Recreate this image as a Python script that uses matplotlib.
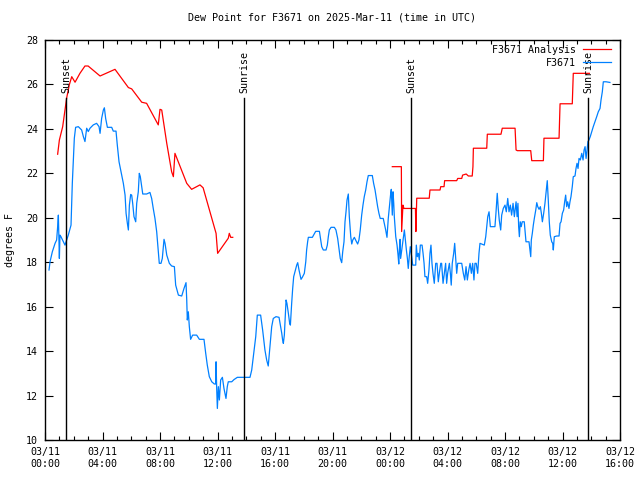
import numpy as np
import matplotlib
matplotlib.use("Agg")
import matplotlib.pyplot as plt
from matplotlib.ticker import MultipleLocator, FixedLocator

# hours since 2025-03-11 00:00 UTC, dew point in F

# analysis, first night
anaA_hours = [0.88, 1.0, 1.23, 1.39, 1.51, 1.69, 1.86, 2.09, 2.43, 2.78, 3.0, 3.83, 4.87,
              5.8, 6.03, 6.73, 7.07, 7.88, 8.0, 8.12, 8.47, 8.81, 8.93, 9.04, 9.86, 10.2,
              10.78, 11.0, 11.9, 12.01, 12.75, 12.82, 12.92, 13.06]
anaA_dewpt = [22.86, 23.5, 24.1, 24.85, 25.4, 25.98, 26.35, 26.1, 26.5, 26.83, 26.83, 26.38, 26.68,
              25.86, 25.8, 25.2, 25.15, 24.18, 24.88, 24.85, 23.35, 22.07, 21.85, 22.9, 21.55, 21.28,
              21.48, 21.35, 19.3, 18.4, 19.08, 19.3, 19.12, 19.12]

# analysis, second night
anaB_hours = [24.16, 24.79, 24.81, 24.9, 24.97, 25.77, 25.8, 25.86, 26.73, 26.78, 27.48, 27.53,
              27.76, 27.8, 28.64, 28.71, 28.99, 29.05, 29.3, 29.45, 29.72, 29.77, 29.8, 30.73,
              30.77, 31.72, 31.81, 32.7, 32.77, 32.86, 33.79, 33.86, 34.67, 34.71, 35.76, 35.83,
              36.68, 36.75, 37.87]
anaB_dewpt = [22.3, 22.3, 19.38, 20.57, 20.42, 20.42, 19.38, 20.88, 20.88, 21.25, 21.25, 21.4,
              21.4, 21.67, 21.67, 21.77, 21.77, 21.92, 21.97, 21.88, 21.88, 22.3, 23.13, 23.13,
              23.76, 23.76, 24.03, 24.03, 23.05, 23.02, 23.02, 22.57, 22.57, 23.58, 23.58, 25.13,
              25.13, 26.5, 26.5]

# station obs
obs_hours = [0.28, 0.35, 0.51, 0.70, 0.81, 0.88, 0.93, 0.97, 1.0, 1.04, 1.11, 1.28, 1.39, 1.51,
             1.62, 1.81, 1.90, 2.04, 2.13, 2.32, 2.55, 2.67, 2.78, 2.90, 3.01, 3.13, 3.36, 3.59,
             3.76, 3.83, 3.94, 4.06, 4.13, 4.22, 4.34, 4.64, 4.75, 4.94, 5.03, 5.15, 5.29, 5.45,
             5.57, 5.64, 5.73, 5.80, 5.87, 5.96, 6.03, 6.10, 6.19, 6.31, 6.38, 6.49, 6.56, 6.63,
             6.73, 6.80, 7.07, 7.30, 7.42, 7.53, 7.65, 7.77, 7.88, 7.95, 8.07, 8.16, 8.28,
             8.35, 8.47, 8.65, 8.81, 9.0, 9.09, 9.28, 9.51, 9.67, 9.81, 9.86, 9.90, 9.97, 10.04,
             10.13, 10.27, 10.55, 10.74, 11.06, 11.18, 11.29, 11.43, 11.6, 11.78, 11.87, 11.9,
             11.94, 11.99, 12.06, 12.13, 12.22, 12.34, 12.45, 12.59, 12.68, 12.75, 12.99, 13.15,
             13.38, 14.26, 14.38, 14.49, 14.66, 14.77, 15.0, 15.14, 15.3, 15.42, 15.53, 15.65,
             15.77, 15.88, 16.07, 16.28,
             16.35, 16.47, 16.53, 16.58, 16.65, 16.7, 16.77, 16.83, 16.93, 17.02, 17.07, 17.16,
             17.23, 17.3, 17.39, 17.51, 17.58, 17.67, 17.81, 17.9, 18.04, 18.14, 18.2, 18.27,
             18.32, 18.6, 18.73, 18.83, 19.09, 19.18, 19.25, 19.36, 19.55, 19.64, 19.71, 19.78,
             19.9, 20.13, 20.24, 20.36, 20.45, 20.54, 20.64, 20.71, 20.8, 20.87, 20.94, 21.01,
             21.1, 21.17, 21.27, 21.34, 21.41, 21.52, 21.63, 21.75, 21.84, 21.93, 22.03, 22.12,
             22.21, 22.31, 22.4, 22.49, 22.77, 22.86, 22.96, 23.05, 23.14, 23.23, 23.32, 23.53,
             23.6, 23.7, 23.79, 23.88, 23.98, 24.05, 24.09, 24.16, 24.21, 24.26, 24.3, 24.4,
             24.49, 24.56, 24.61, 24.65, 24.7,
             24.74, 24.83, 24.93, 25.0, 25.07, 25.14, 25.21, 25.27, 25.34, 25.41, 25.51, 25.58,
             25.79, 25.83, 25.9, 25.97, 26.04, 26.11, 26.23, 26.3, 26.37, 26.43, 26.55, 26.62,
             26.71, 26.78, 26.85, 26.92, 26.99, 27.08, 27.18, 27.27, 27.36, 27.43, 27.53, 27.59,
             27.69, 27.78, 27.87, 27.94, 28.01, 28.13, 28.2, 28.26, 28.33, 28.43, 28.5, 28.57,
             28.64, 28.71, 28.99, 29.1, 29.2, 29.29, 29.38, 29.48, 29.57, 29.66, 29.75, 29.84,
             29.91, 30.0, 30.1, 30.19, 30.26, 30.56, 30.66, 30.73, 30.8, 30.89, 30.98, 31.3,
             31.37, 31.46, 31.53, 31.6, 31.7, 31.77, 31.88, 32.0, 32.09, 32.19, 32.28, 32.37,
             32.46, 32.56, 32.65, 32.77, 32.84, 32.9, 32.95, 33.0,
             33.06, 33.13, 33.2, 33.34, 33.41, 33.46, 33.67, 33.74, 33.79, 33.83, 33.9, 33.97,
             34.04, 34.14, 34.21, 34.28, 34.37, 34.46, 34.53, 34.6, 34.69, 34.78, 34.87, 34.94,
             35.01, 35.08, 35.15, 35.25, 35.32, 35.36, 35.43, 35.6, 35.76, 35.83, 35.9, 35.99,
             36.08, 36.15, 36.22, 36.29, 36.36, 36.45, 36.52, 36.59, 36.68, 36.75, 36.87, 36.94,
             37.01, 37.08, 37.15, 37.24, 37.34, 37.43, 37.5, 37.57, 37.64, 37.71, 37.77, 37.84,
             37.93, 38.03, 38.14, 38.26, 38.38, 38.49, 38.61, 38.68, 38.77, 38.84, 39.03, 39.3]
obs_dewpt = [17.65, 18.02, 18.47, 18.85, 19.0, 19.6, 20.12, 19.07, 18.17, 19.22, 19.15, 18.92, 18.77, 19.0,
             19.22, 19.67, 21.55, 23.58, 24.07, 24.1, 23.95, 23.65, 23.43, 24.03, 23.88, 24.03, 24.18, 24.25,
             24.1, 23.8, 24.47, 24.85, 24.95, 24.47, 24.07, 24.07, 23.9, 23.9, 23.27, 22.52, 22.07, 21.55,
             21.02, 20.2, 19.75, 19.45, 20.57, 21.05, 21.02, 20.65, 20.05, 19.82, 20.65, 21.17, 22.0, 21.85,
             21.4, 21.07, 21.07, 21.14, 20.87, 20.42, 19.97, 19.37, 18.47, 17.95, 17.95, 18.17, 19.03,
             18.85, 18.32, 17.95, 17.83, 17.8, 16.97, 16.52, 16.48, 16.82, 17.08, 16.3, 15.4, 15.77, 15.1,
             14.53, 14.72, 14.72, 14.53, 14.53, 13.9, 13.37, 12.85, 12.62, 12.52, 12.52, 13.52,
             12.4, 11.42, 12.4, 11.8, 12.7, 12.82, 12.32, 11.87, 12.4, 12.62, 12.62, 12.72,
             12.82, 12.82, 13.15, 13.75, 14.65, 15.62, 15.62, 14.95, 14.05, 13.6, 13.33, 14.2,
             15.1, 15.47, 15.55, 15.52,
             15.25, 14.8, 14.5, 14.35, 14.72, 15.4, 16.3, 16.15, 15.7, 15.25, 15.17, 16.15,
             16.82, 17.35, 17.57, 17.87, 17.98, 17.65, 17.23, 17.32, 17.5, 18.02, 18.55, 18.92,
             19.12, 19.12, 19.27, 19.39, 19.39, 19.0, 18.7, 18.55, 18.55, 18.77, 19.15, 19.45,
             19.57, 19.57, 19.45, 19.07, 18.62, 18.17, 17.98, 18.47, 18.92, 19.82, 20.27, 20.8,
             21.07, 20.05, 19.15, 18.82, 19.0, 19.12, 18.97, 18.82, 19.0, 19.45, 20.12, 20.57,
             20.95, 21.25, 21.62, 21.9, 21.9, 21.55, 21.25, 20.87, 20.5, 20.2, 19.97, 19.97,
             19.75, 19.45, 19.12, 19.97, 20.65, 21.1, 21.28, 20.12, 21.17, 20.65, 20.05, 19.15,
             18.77, 18.32, 17.92, 18.55, 19.03,
             18.17, 18.62, 19.15, 19.45, 19.0, 18.55, 18.17, 17.72, 18.25, 18.7, 18.25, 17.87,
             17.87, 18.77, 18.25, 18.4, 18.1, 18.77, 18.77, 18.4, 17.95, 17.35, 17.35, 17.05,
             17.65, 18.4, 18.77, 17.95, 17.5, 17.05, 17.95, 17.95, 17.12, 17.5, 17.95, 17.95,
             17.05, 17.5, 17.95, 17.05, 17.5, 17.95, 17.5, 16.97, 17.95, 18.4, 18.85, 18.17,
             17.5, 17.95, 17.95, 17.5, 17.2, 17.8, 17.2, 17.65, 17.95, 17.5, 17.95, 17.2,
             17.95, 17.95, 17.5, 18.4, 18.85, 18.77, 19.15, 19.6, 20.05, 20.27, 19.6, 19.6,
             20.2, 21.1, 20.42, 19.9, 19.45, 20.12, 20.42, 20.57, 20.27, 20.87, 20.27, 20.57,
             20.12, 20.65, 20.05, 20.72, 20.05, 20.65, 19.6, 19.15,
             19.82, 19.6, 19.82, 19.82, 19.3, 18.92, 18.92, 18.55, 18.25, 19.0, 19.3, 19.67,
             19.97, 20.35, 20.68, 20.5, 20.38, 20.5, 20.2, 19.82, 20.2, 20.65, 21.25, 21.67,
             20.8, 19.82, 19.22, 18.92, 18.85, 18.55, 19.15, 19.18, 19.18, 19.75, 19.82, 20.2,
             20.35, 20.72, 21.02, 20.5, 20.72, 20.42, 20.72, 20.95, 21.4, 21.85, 21.88, 22.22,
             22.45, 22.22, 22.67, 22.6, 22.9, 22.6, 23.05, 23.2, 22.67, 23.05, 23.43, 23.5,
             23.65, 23.87, 24.1, 24.32, 24.55, 24.77, 24.92, 25.3, 25.67, 26.12, 26.12, 26.09]

# sun events
sun_hours = [1.46, 13.84, 25.46, 37.77]
sun_names = ["Sunset", "Sunrise", "Sunset", "Sunrise"]

fnt = "DejaVu Sans Mono"
plt.rcParams["font.family"] = fnt
plt.rcParams["font.size"] = 7

fig = plt.figure(figsize=(6.4, 4.8), dpi=100)
ax = fig.add_axes([45 / 640, 40 / 480, 575 / 640, 400 / 480])

ax.plot(anaA_hours, anaA_dewpt, color="#ff0000", lw=0.9, label="F3671 Analysis")
ax.plot(anaB_hours, anaB_dewpt, color="#ff0000", lw=0.9)
ax.plot(obs_hours, obs_dewpt, color="#0080ff", lw=0.9, label="F3671")

for h, nm in zip(sun_hours, sun_names):
    ax.plot([h, h], [10, 25.4], color="black", lw=1.0)
    ax.text(h, 25.6, nm, rotation=90, ha="center", va="bottom", fontsize=7.2)

ax.set_xlim(0, 40)
ax.set_ylim(10, 28)
ax.xaxis.set_major_locator(FixedLocator(range(0, 41, 4)))
ax.xaxis.set_minor_locator(MultipleLocator(1))
ax.set_xticklabels(["03/%02d\n%02d:00" % (11 + h // 24, h % 24) for h in range(0, 41, 4)])
ax.yaxis.set_major_locator(MultipleLocator(2))
ax.tick_params(which="both", direction="in", top=True, right=True, labelsize=7.2, pad=5)
ax.tick_params(which="major", length=6, width=0.8)
ax.tick_params(which="minor", length=3, width=0.8)
for s in ax.spines.values():
    s.set_linewidth(1.0)

ax.set_ylabel("degrees F", fontsize=7.2, labelpad=8)
ax.set_title("Dew Point for F3671 on 2025-Mar-11 (time in UTC)", fontsize=7.2, pad=14)

ax.legend(loc="upper right", markerfirst=False, frameon=False, fontsize=7.2,
          handlelength=2.8, handletextpad=0.7, labelspacing=0.3,
          borderaxespad=0.55, bbox_to_anchor=(1.0, 1.012))

fig.savefig("out.png", dpi=100)
